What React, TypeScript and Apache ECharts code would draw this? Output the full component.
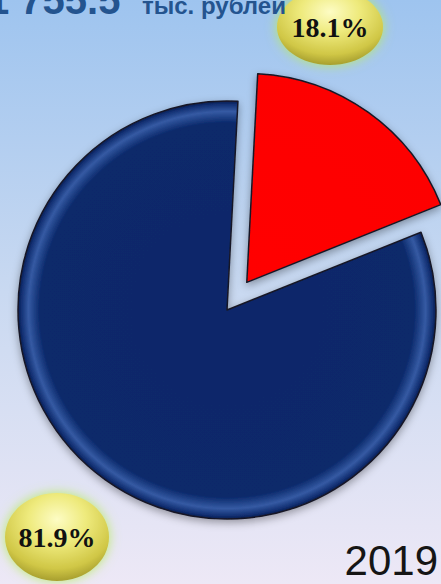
import React, { useEffect, useRef } from "react";
import * as echarts from "echarts";

// ---- data ----
const sliceNames = ["Доля 1", "Доля 2"];
const sliceValues = [18.1, 81.9];
const sliceColors = ["red", "blue"];
const yearLabel = "2019";
const totalValue = "1 755.5";
const totalUnit = "тыс. рублей";

// ---- layout (styles/positions) ----
const W = 441;
const H = 584;
const CX = 227;
const CY = 310;
const R = 209;
const START = 87;
const OFFSET = 34;
const ballPos = [
  { cx: 330, cy: 27, rx: 53, ry: 38 },
  { cx: 57, cy: 537, rx: 52, ry: 44 },
];

function sliceGradient(kind: string, x: number, y: number) {
  const stops =
    kind === "red"
      ? [
          { offset: 0, color: "#ff0000" },
          { offset: 0.9, color: "#fd0202" },
          { offset: 0.95, color: "#ff3434" },
          { offset: 0.985, color: "#d40000" },
          { offset: 1, color: "#8a0000" },
        ]
      : [
          { offset: 0, color: "#0a276a" },
          { offset: 0.895, color: "#0b296b" },
          { offset: 0.95, color: "#355aa3" },
          { offset: 0.985, color: "#122f72" },
          { offset: 1, color: "#0a1d50" },
        ];
  return new echarts.graphic.RadialGradient(x, y, R, stops, true);
}

function ballGradient() {
  return new echarts.graphic.RadialGradient(0.5, 0.3, 0.8, [
    { offset: 0, color: "#fdfcc4" },
    { offset: 0.35, color: "#eeea7c" },
    { offset: 0.7, color: "#d0c746" },
    { offset: 1, color: "#8a821e" },
  ]);
}

export default function App() {
  const ref = useRef<HTMLDivElement>(null);
  useEffect(() => {
    if (!ref.current) return;
    const chart = echarts.init(ref.current, undefined, { renderer: "svg" });
    const total = sliceValues.reduce((a, b) => a + b, 0);
    let acc = 0;
    const data = sliceValues.map((v, i) => {
      const mid = START - (360 * (acc + v / 2)) / total;
      acc += v;
      const selected = i === 0;
      const rad = (mid * Math.PI) / 180;
      const ox = selected ? CX + OFFSET * Math.cos(rad) : CX;
      const oy = selected ? CY - OFFSET * Math.sin(rad) : CY;
      const color = sliceGradient(sliceColors[i], ox, oy);
      return {
        name: sliceNames[i],
        value: v,
        selected,
        itemStyle: { color },
        select: { itemStyle: { color } },
      };
    });

    const labelFont = "bold 28px 'Liberation Serif', 'Times New Roman', serif";

    chart.setOption({
      animation: false,
      backgroundColor: new echarts.graphic.LinearGradient(0, 0, 0, 1, [
        { offset: 0, color: "#9ec4ef" },
        { offset: 0.5, color: "#c9d9f1" },
        { offset: 1, color: "#ede8f6" },
      ]),
      graphic: [
        ...ballPos.map((b) => ({
          type: "ellipse",
          z: 1,
          shape: { cx: b.cx, cy: b.cy, rx: b.rx, ry: b.ry },
          style: {
            fill: ballGradient(),
            shadowBlur: 12,
            shadowColor: "rgba(185,235,100,0.95)",
          },
        })),
        ...sliceValues.map((v, i) => ({
          type: "text",
          z: 6,
          x: ballPos[i].cx,
          y: ballPos[i].cy,
          style: {
            text: `${v.toFixed(1)}%`,
            font: labelFont,
            fill: "#111111",
            align: "center",
            verticalAlign: "middle",
          },
        })),
        {
          type: "text",
          z: 5,
          x: -13,
          y: 0,
          style: {
            text: totalValue,
            font: "bold 40px 'Liberation Sans', Arial, sans-serif",
            fill: "#24548f",
            verticalAlign: "middle",
            align: "left",
          },
        },
        {
          type: "text",
          z: 5,
          x: 142,
          y: 5,
          style: {
            text: totalUnit,
            font: "bold 24px 'Liberation Sans', Arial, sans-serif",
            fill: "#24548f",
            verticalAlign: "middle",
            align: "left",
          },
        },
        {
          type: "text",
          z: 5,
          x: 438,
          y: 560,
          style: {
            text: yearLabel,
            font: "42px 'Liberation Sans', Arial, sans-serif",
            fill: "#151515",
            verticalAlign: "middle",
            align: "right",
          },
        },
      ],
      series: [
        {
          type: "pie",
          z: 2,
          center: [CX, CY],
          radius: [0, R],
          startAngle: START,
          clockwise: true,
          selectedMode: "single",
          selectedOffset: OFFSET,
          avoidLabelOverlap: false,
          emphasis: { disabled: true },
          itemStyle: {
            borderColor: "#181826",
            borderWidth: 1.5,
            shadowBlur: 8,
            shadowColor: "rgba(0,0,0,0.35)",
            shadowOffsetY: 3,
          },
          label: { show: false },
          labelLine: { show: false },
          data,
        },
      ],
    });
    return () => chart.dispose();
  }, []);
  return (
    <div
      ref={ref}
      style={{ position: "fixed", left: 0, top: 0, width: W, height: H }}
    />
  );
}
